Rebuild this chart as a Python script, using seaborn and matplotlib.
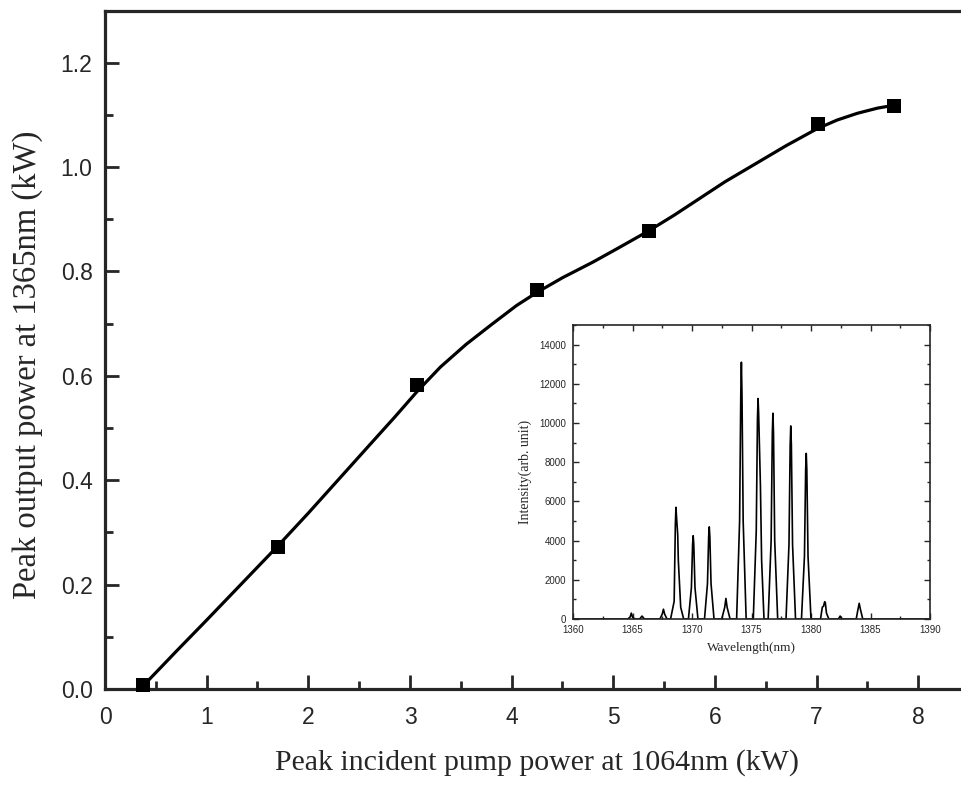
import matplotlib
matplotlib.use("Agg")
import matplotlib.pyplot as plt
from matplotlib.ticker import MultipleLocator, FormatStrFormatter
import seaborn as sns
import pandas as pd

# ---- main data: measured points ----
pump_kw = [0.37, 1.70, 3.07, 4.25, 5.35, 7.01, 7.76]
output_kw = [0.008, 0.273, 0.582, 0.765, 0.878, 1.082, 1.117]

# ---- smooth guide curve ----
curve_x = [0.37, 0.7, 1.0, 1.35, 1.69, 2.0, 2.3, 2.6, 2.85, 3.07, 3.3, 3.55,
           3.8, 4.05, 4.25, 4.5, 4.8, 5.05, 5.35, 5.6, 5.85, 6.1, 6.37, 6.7,
           7.0, 7.2, 7.4, 7.6, 7.75]
curve_y = [0.005, 0.072, 0.132, 0.203, 0.272, 0.337, 0.402, 0.467, 0.521, 0.570,
           0.617, 0.660, 0.698, 0.735, 0.760, 0.788, 0.818, 0.845, 0.878, 0.908,
           0.940, 0.972, 1.003, 1.041, 1.073, 1.090, 1.103, 1.113, 1.118]

# ---- inset spectrum ----
wavelength_nm = [
    1360.0, 1364.6, 1364.8, 1364.9, 1365.0, 1365.2, 1365.6, 1365.8, 1366.0,
    1367.3, 1367.5, 1367.6, 1367.7, 1367.9,
    1368.2, 1368.4, 1368.5, 1368.6, 1368.65, 1368.7, 1368.8, 1368.85, 1368.95, 1369.05, 1369.3,
    1369.7, 1369.95, 1370.05, 1370.1, 1370.15, 1370.25, 1370.5,
    1371.05, 1371.3, 1371.4, 1371.45, 1371.5, 1371.6, 1371.85,
    1372.5, 1372.75, 1372.85, 1372.95, 1373.2,
    1373.75, 1374.0, 1374.1, 1374.15, 1374.2, 1374.3, 1374.55,
    1375.15, 1375.4, 1375.5, 1375.55, 1375.6, 1375.75, 1375.85, 1376.05,
    1376.4, 1376.65, 1376.75, 1376.8, 1376.85, 1376.95, 1377.2,
    1377.9, 1378.15, 1378.25, 1378.3, 1378.35, 1378.45, 1378.7,
    1379.2, 1379.45, 1379.55, 1379.6, 1379.65, 1379.75, 1380.0,
    1380.8, 1380.95, 1381.05, 1381.15, 1381.2, 1381.3, 1381.5,
    1382.3, 1382.45, 1382.6,
    1383.8, 1383.95, 1384.05, 1384.15, 1384.35, 1390.0]
intensity = [
    0, 0, 100, 300, 100, 0, 0, 150, 0,
    0, 250, 500, 250, 0,
    0, 600, 900, 4800, 5700, 5200, 4300, 3000, 1800, 600, 0,
    0, 1600, 3800, 4250, 3800, 1600, 0,
    0, 1800, 4200, 4700, 4200, 1800, 0,
    0, 600, 1050, 600, 0,
    0, 5000, 11500, 13100, 11500, 5000, 0,
    0, 4500, 10200, 11250, 10500, 6800, 3000, 0,
    0, 4000, 9500, 10500, 9500, 4000, 0,
    0, 3800, 8900, 9850, 8900, 3800, 0,
    0, 3200, 7600, 8450, 7600, 3200, 0,
    0, 600, 650, 880, 850, 300, 0,
    0, 150, 0,
    0, 500, 800, 500, 0, 0]

points = pd.DataFrame({"pump": pump_kw, "out": output_kw})
curve = pd.DataFrame({"pump": curve_x, "out": curve_y})
spec = pd.DataFrame({"wl": wavelength_nm, "I": intensity})

sns.set_style("ticks")
plt.rcParams["font.family"] = ["Liberation Sans", "DejaVu Sans"]

fig = plt.figure(figsize=(9.61, 7.85), dpi=100)
ax = fig.add_axes([105 / 961, 1 - 689 / 785, 1 - 105 / 961, (689 - 10.5) / 785])

sns.lineplot(data=curve, x="pump", y="out", ax=ax, color="black", lw=2.3,
             sort=False, estimator=None)
sns.scatterplot(data=points, x="pump", y="out", ax=ax, marker="s", s=90,
                color="black", edgecolor="black", linewidth=0, zorder=5, clip_on=False)

ax.set_xlim(0, 8.42)
ax.set_ylim(0, 1.3)
ax.xaxis.set_major_locator(MultipleLocator(1))
ax.xaxis.set_minor_locator(MultipleLocator(0.5))
ax.yaxis.set_major_locator(MultipleLocator(0.2))
ax.yaxis.set_minor_locator(MultipleLocator(0.1))
ax.yaxis.set_major_formatter(FormatStrFormatter("%.1f"))
ax.tick_params(axis="both", which="major", direction="in", length=10, width=2,
               labelsize=16.5, top=False, right=False)
ax.tick_params(axis="x", which="major", pad=12)
ax.tick_params(axis="y", which="major", pad=9)
ax.tick_params(axis="both", which="minor", direction="in", length=5.5, width=2,
               top=False, right=False)
for s in ["left", "bottom", "top"]:
    ax.spines[s].set_linewidth(2.3)
ax.spines["right"].set_visible(False)

ax.set_xlabel("Peak incident pump power at 1064nm (kW)", family="Liberation Serif",
              fontsize=21.5)
ax.set_ylabel("Peak output power at 1365nm (kW)", family="Liberation Serif",
              fontsize=23.5)
ax.xaxis.set_label_coords(0.505, -0.088)
ax.yaxis.set_label_coords(-0.072, 0.4775)

# ---- inset ----
ins = fig.add_axes([573 / 961, 1 - 619 / 785, (930 - 573) / 961, (619 - 325) / 785])
sns.lineplot(data=spec, x="wl", y="I", ax=ins, color="black", lw=1.2,
             sort=False, estimator=None)
ins.set_xlim(1360, 1390)
ins.set_ylim(0, 15000)
ins.xaxis.set_major_locator(MultipleLocator(5))
ins.xaxis.set_minor_locator(MultipleLocator(2.5))
ins.yaxis.set_major_locator(MultipleLocator(2000))
ins.yaxis.set_minor_locator(MultipleLocator(1000))
ins.tick_params(axis="both", which="major", direction="in", length=4, width=1,
                labelsize=7, top=True, right=True)
ins.tick_params(axis="x", which="major", pad=4.5)
ins.tick_params(axis="y", which="major", pad=5)
ins.tick_params(axis="both", which="minor", direction="in", length=2.5, width=1,
                top=True, right=True)
for s in ins.spines.values():
    s.set_linewidth(1.2)
ins.set_xlabel("Wavelength(nm)", family="Liberation Serif", fontsize=9.5, labelpad=5)
ins.set_ylabel("Intensity(arb. unit)", family="Liberation Serif", fontsize=10, labelpad=5)

fig.savefig("out.png", dpi=100)
